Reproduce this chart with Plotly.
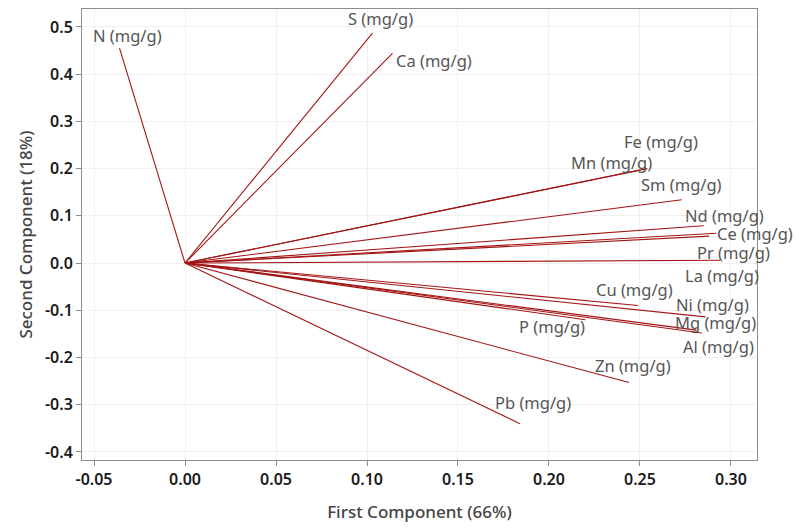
import plotly.graph_objects as go

variables = ["N", "S", "Ca", "Fe", "Mn", "Sm", "Nd", "Ce", "Pr", "La",
             "Cu", "Ni", "Mg", "Al", "P", "Zn", "Pb"]
pc1 = [-0.036, 0.103, 0.114, 0.254, 0.250, 0.273, 0.285, 0.292, 0.288, 0.294,
       0.249, 0.286, 0.284, 0.281, 0.220, 0.244, 0.184]
pc2 = [0.455, 0.487, 0.444, 0.200, 0.197, 0.134, 0.079, 0.063, 0.057, 0.006,
       -0.090, -0.114, -0.148, -0.142, -0.120, -0.253, -0.340]
x_ticks = [-0.05, 0.00, 0.05, 0.10, 0.15, 0.20, 0.25, 0.30]
y_ticks = [-0.4, -0.3, -0.2, -0.1, 0.0, 0.1, 0.2, 0.3, 0.4, 0.5]

# label placement (pixel offsets of label centre from vector end)
label_offsets = {
    "N": (8, 13), "S": (8, 15), "Ca": (42, -7), "Fe": (14, 27), "Mn": (-28, 8),
    "Sm": (0, 15), "Nd": (21, 10), "Ce": (39, 0), "Pr": (24, -16), "La": (2, -15),
    "Cu": (-4, 16), "Ni": (7, 12), "Mg": (14, 10), "Al": (22, -16), "P": (-33, -7),
    "Zn": (4, 17), "Pb": (13, 21),
}

line_color = "#a31515"
fig = go.Figure()
for name, x, y in zip(variables, pc1, pc2):
    fig.add_trace(go.Scatter(x=[0, x], y=[0, y], mode="lines",
                             line=dict(color=line_color, width=1.1),
                             showlegend=False, hoverinfo="skip"))
    dx, dy = label_offsets[name]
    fig.add_annotation(x=x, y=y, text=f"{name} (mg/g)", showarrow=False,
                       xshift=dx, yshift=dy, xanchor="center", yanchor="middle",
                       font=dict(family="Noto Sans", size=16.5, color="#555555"))

axis_common = dict(showline=True, linecolor="#8c8c8c", linewidth=1, mirror=True,
                   showgrid=True, gridcolor="#f0f0f0", gridwidth=1, zeroline=False,
                   ticks="outside", ticklen=5, tickcolor="#8c8c8c",
                   tickfont=dict(family="Noto Sans", size=16, color="#1a1a1a",
                                 weight=600))

fig.update_layout(
    width=796, height=528,
    margin=dict(l=82, r=39, t=9, b=68),
    paper_bgcolor="white", plot_bgcolor="white",
    xaxis=dict(range=[-0.0566, 0.3143], tickvals=x_ticks,
               ticktext=[f"{v:.2f}" for v in x_ticks],
               title=dict(text="First Component (66%)", standoff=16,
                          font=dict(family="Noto Sans", size=17, color="#444444",
                                    weight=500)),
               **axis_common),
    yaxis=dict(range=[-0.417, 0.538], tickvals=y_ticks,
               ticktext=[f"{v:.1f}" for v in y_ticks],
               title=dict(text="Second Component (18%)", standoff=8,
                          font=dict(family="Noto Sans", size=17, color="#444444",
                                    weight=500)),
               **axis_common),
)

fig.write_html("out.html")
